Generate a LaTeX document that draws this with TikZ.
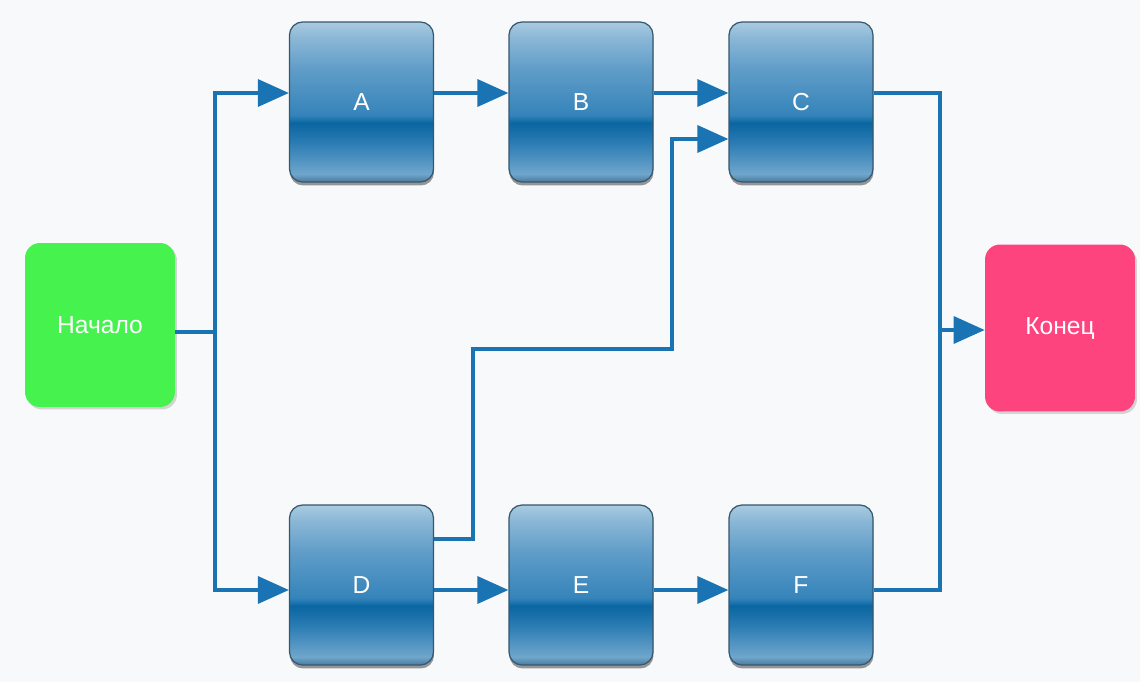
\documentclass[tikz,border=0pt]{standalone}
\usepackage{fontspec}
\setmainfont{Liberation Sans}
\usetikzlibrary{arrows.meta,shadows}

\definecolor{bgcol}{HTML}{F8F9FA}
\definecolor{wirecol}{HTML}{1A73B2}
\definecolor{startcol}{HTML}{46F24E}
\definecolor{endcol}{HTML}{FE447F}
\definecolor{boxedge}{HTML}{35576F}
\definecolor{gtop}{HTML}{A9CBE0}
\definecolor{ghi}{HTML}{8AB7D6}
\definecolor{gmid}{HTML}{5F9CC8}
\definecolor{glow}{HTML}{3584BA}
\definecolor{gstep}{HTML}{1A74AE}
\definecolor{gdark}{HTML}{0A65A0}
\definecolor{gback}{HTML}{2A7BB3}
\definecolor{gbot}{HTML}{6FA6CC}
\definecolor{gedge}{HTML}{4A7A9A}

% glossy blue fill: the path spans 25bp (bottom) to 75bp (top)
\pgfdeclareverticalshading{glossyblue}{100bp}{%
  color(0bp)=(gedge); color(25bp)=(gedge); color(27.5bp)=(gbot);
  color(37.5bp)=(gback); color(43.5bp)=(gdark); color(44.5bp)=(gstep);
  color(46bp)=(glow); color(60bp)=(gmid); color(70bp)=(ghi);
  color(75bp)=(gtop); color(100bp)=(gtop)}

\tikzset{
  task/.style={rounded corners=0.26cm, minimum width=2.88cm, minimum height=3.2cm,
    shading=glossyblue, draw=boxedge, line width=0.7pt, text=white,
    font=\fontsize{14}{16}\selectfont, inner sep=0pt,
    drop shadow={shadow xshift=0.01cm, shadow yshift=-0.07cm, fill=black, opacity=0.4}},
  terminal/.style={rounded corners=0.3cm, minimum width=3cm, text=white,
    font=\fontsize{14}{16}\selectfont, inner sep=0pt,
    drop shadow={shadow xshift=0.04cm, shadow yshift=-0.05cm, fill=black, opacity=0.15}},
  wire/.style={draw=wirecol, line width=2pt},
  flow/.style={wire, -{Triangle[length=0.62cm,width=0.54cm]}},
}

\begin{document}
\begin{tikzpicture}[x=0.02cm,y=-0.02cm]
  \useasboundingbox (0,0) rectangle (1140,682);
  \fill[bgcol] (0,0) rectangle (1140,682);

  % start and end
  \node[terminal, fill=startcol, minimum height=3.28cm] (Start) at (100,325) {Начало};
  \node[terminal, fill=endcol, minimum height=3.34cm] (End) at (1060,328) {Конец};

  % tasks
  \node[task] (A) at (361.5,102) {A};
  \node[task] (B) at (581,102) {B};
  \node[task] (C) at (801,102) {C};
  \node[task] (D) at (361.5,585) {D};
  \node[task] (E) at (581,585) {E};
  \node[task] (F) at (801,585) {F};

  % routing points
  \coordinate (jl) at (215,332);
  \coordinate (jr) at (940,330);
  \coordinate (rowA) at (0,93);
  \coordinate (rowD) at (0,590);
  \coordinate (cIn) at (0,139);
  \coordinate (dOut) at (0,539);
  \coordinate (b1) at (473,349);
  \coordinate (b2) at (672,349);

  % fan-out from start
  \draw[wire] (Start.east |- jl) -- (jl);
  \draw[flow] (jl) |- (A.west |- rowA);
  \draw[flow] (jl) |- (D.west |- rowD);

  % upper chain
  \draw[flow] (A.east |- rowA) -- (B.west |- rowA);
  \draw[flow] (B.east |- rowA) -- (C.west |- rowA);

  % lower chain
  \draw[flow] (D.east |- rowD) -- (E.west |- rowD);
  \draw[flow] (E.east |- rowD) -- (F.west |- rowD);

  % D feeds C
  \draw[flow] (D.east |- dOut) -| (b1) -- (b2) |- (C.west |- cIn);

  % merge into end
  \draw[wire] (C.east |- rowA) -| (jr |- rowD) -- (F.east |- rowD);
  \draw[flow] (jr) -- (End.west |- jr);
\end{tikzpicture}
\end{document}
